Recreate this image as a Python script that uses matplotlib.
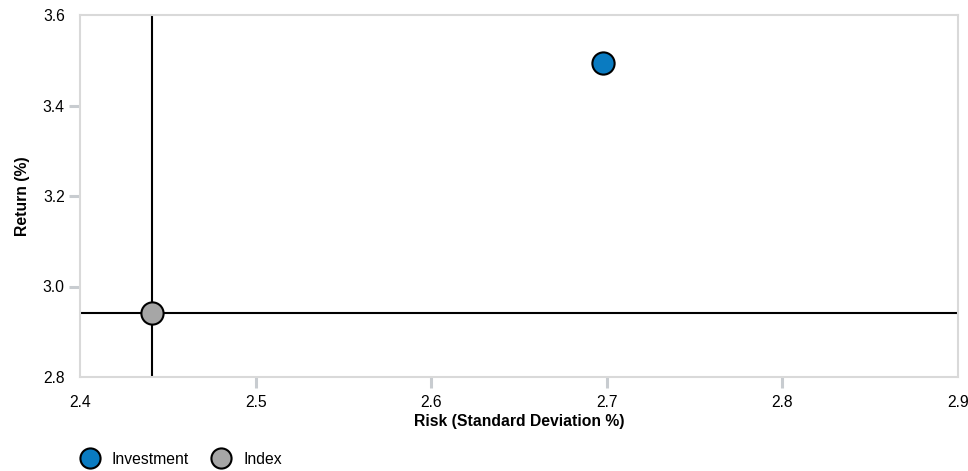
import matplotlib.pyplot as plt
from matplotlib.lines import Line2D

plt.rcParams['font.family'] = ['Liberation Sans', 'DejaVu Sans']

names = ["Investment", "Index"]
risk = [2.698, 2.441]
ret = [3.493, 2.941]
colors = ["#0A7BC1", "#A6A6A6"]

x_ticks = [2.4, 2.5, 2.6, 2.7, 2.8, 2.9]
y_ticks = [2.8, 3.0, 3.2, 3.4, 3.6]

fs = 11.3

fig = plt.figure(figsize=(9.68, 4.71), dpi=100)
ax = fig.add_axes([80 / 968, 1 - 377 / 471, 878 / 968, 362 / 471])

# crosshair through the index point
ax.axvline(risk[1], color='black', lw=1.5, zorder=1)
ax.axhline(ret[1], color='black', lw=1.5, zorder=1)

for name, xv, yv, c in zip(names, risk, ret, colors):
    ax.plot(xv, yv, 'o', ms=16, mfc=c, mec='black', mew=1.5, zorder=3, clip_on=False)

ax.set_xlim(2.4, 2.9)
ax.set_ylim(2.8, 3.6)
ax.set_xticks(x_ticks)
ax.set_yticks(y_ticks)
ax.set_xticklabels([f"{v:.1f}" for v in x_ticks])
ax.set_yticklabels([f"{v:.1f}" for v in y_ticks])

for s in ax.spines.values():
    s.set_color('#d9d9d9')
    s.set_linewidth(1.5)

ax.tick_params(axis='both', colors='#c8ccd0', width=2.2, length=8, labelcolor='black', labelsize=fs)
ax.tick_params(axis='x', pad=5)
ax.tick_params(axis='y', pad=3)

# no tick marks at the ends of the axes
for axis in (ax.xaxis, ax.yaxis):
    ticks = axis.get_major_ticks()
    for t in (ticks[0], ticks[-1]):
        t.tick1line.set_visible(False)

ax.set_xlabel("Risk (Standard Deviation %)", fontsize=fs, fontweight='bold', labelpad=3)
ax.set_ylabel("Return (%)", fontsize=fs, fontweight='bold', labelpad=9)

handles = [Line2D([], [], ls='', marker='o', ms=14.5, mfc=c, mec='black', mew=1.5) for c in colors]
fig.legend(handles, names, loc='center left', bbox_to_anchor=(64 / 968, 1 - 459 / 471), ncol=2,
           frameon=False, fontsize=fs, handletextpad=0.65, columnspacing=1.3, handlelength=1.5)

fig.savefig("out.png", dpi=100)
